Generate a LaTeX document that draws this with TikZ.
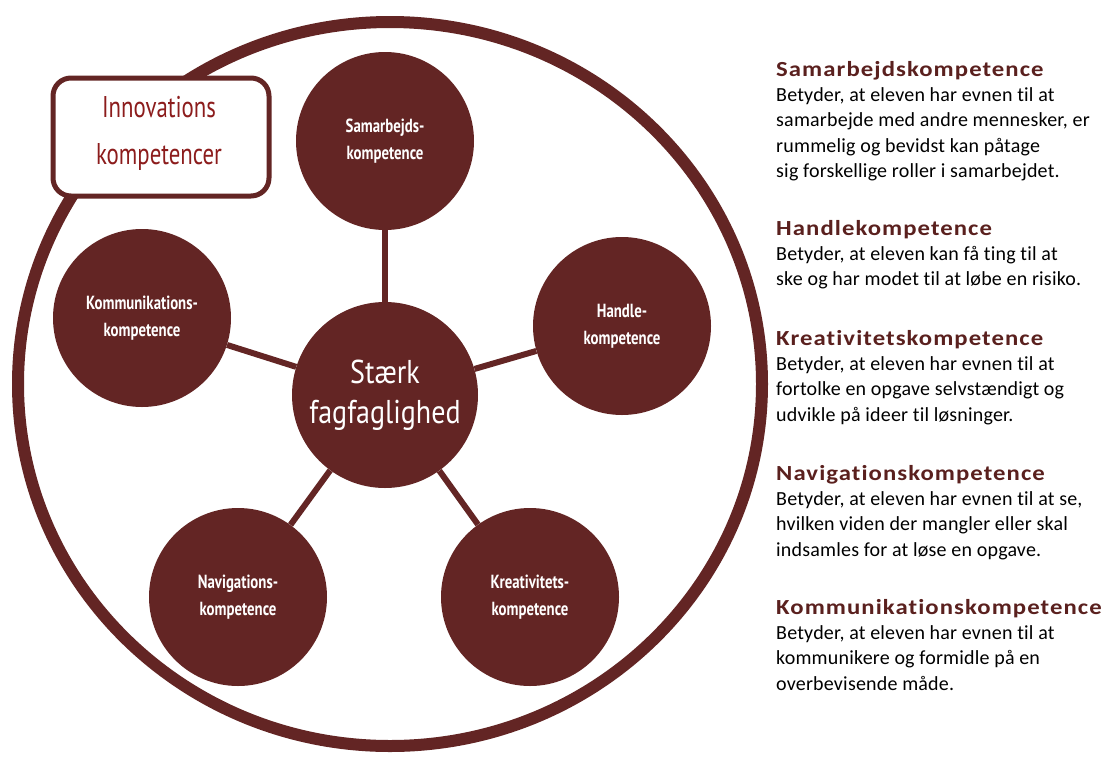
\documentclass[tikz,border=0pt]{standalone}
\usepackage{fontspec}
\setmainfont{Carlito}[Ligatures=NoCommon,LetterSpace=1]
\newfontfamily\headfont{Carlito}[Ligatures=NoCommon,LetterSpace=5,FakeStretch=1.15]
\newfontfamily\agencyA[FakeStretch=0.78]{PT Sans}
\newfontfamily\agencyB[FakeStretch=0.76]{PT Sans}
\newfontfamily\agencyC[FakeStretch=0.85]{PT Sans}
\definecolor{maroon}{RGB}{99,37,36}
\definecolor{redtxt}{RGB}{140,28,28}
\definecolor{headc}{RGB}{90,32,30}
\newcommand\hdtxt[1]{{\color{headc}\headfont\bfseries\fontsize{21.5}{25.4}\selectfont #1}}
\newcommand\desctxt[1]{\parbox[t]{330pt}{\raggedright\fontsize{20}{25.4}\selectfont\leavevmode #1}}
\begin{document}
\begin{tikzpicture}[x=1pt,y=-1pt,
  comp/.style={circle,fill=maroon,minimum size=178pt,inner sep=0pt,text=white,align=center,font=\agencyA\bfseries\fontsize{19}{27}\selectfont},
  link/.style={draw=maroon,line width=6pt},
  desc/.style={anchor=base west,inner sep=0pt}]
\useasboundingbox (0,0) rectangle (1106,756);
\draw[draw=maroon,line width=12pt] (390,384) ellipse [x radius=372, y radius=362];
\node[comp] (sam) at (385,141) {Samarbejds-\\kompetence};
\node[comp] (han) at (622,326) {Handle-\\kompetence};
\node[comp] (kom) at (142,318) {Kommunikations-\\kompetence};
\node[comp] (nav) at (238,597) {Navigations-\\kompetence};
\node[comp] (kre) at (530,597) {Kreativitets-\\kompetence};
\node[comp,minimum size=186pt,font=\agencyC\fontsize{33}{40}\selectfont] (mid) at (385,395) {Stærk\\fagfaglighed};
\draw[link] (sam) -- (mid);
\draw[link] (han) -- (mid);
\draw[link] (kom) -- (mid);
\draw[link] (nav) -- (mid);
\draw[link] (kre) -- (mid);
\node[draw=maroon,line width=5pt,rounded corners=18pt,fill=white,minimum width=216pt,minimum height=118pt] (inno) at (161,137) {};
\node[align=center,text=redtxt,font=\agencyB\fontsize{30}{47}\selectfont] (innotxt) at (159,133) {Innovations\\kompetencer};
\node[desc] (d1) at (776,76) {\desctxt{\hdtxt{Samarbejdskompetence}\\Betyder, at eleven har evnen til at\\samarbejde med andre mennesker, er\\rummelig og bevidst kan påtage\\sig forskellige roller i samarbejdet.}};
\node[desc] (d2) at (776,235) {\desctxt{\hdtxt{Handlekompetence}\\Betyder, at eleven kan få ting til at\\ske og har modet til at løbe en risiko.}};
\node[desc] (d3) at (776,345) {\desctxt{\hdtxt{Kreativitetskompetence}\\Betyder, at eleven har evnen til at\\fortolke en opgave selvstændigt og\\udvikle på ideer til løsninger.}};
\node[desc] (d4) at (776,480) {\desctxt{\hdtxt{Navigationskompetence}\\Betyder, at eleven har evnen til at se,\\hvilken viden der mangler eller skal\\indsamles for at løse en opgave.}};
\node[desc] (d5) at (776,614) {\desctxt{\hdtxt{Kommunikationskompetence}\\Betyder, at eleven har evnen til at\\kommunikere og formidle på en\\overbevisende måde.}};
\end{tikzpicture}
\end{document}
